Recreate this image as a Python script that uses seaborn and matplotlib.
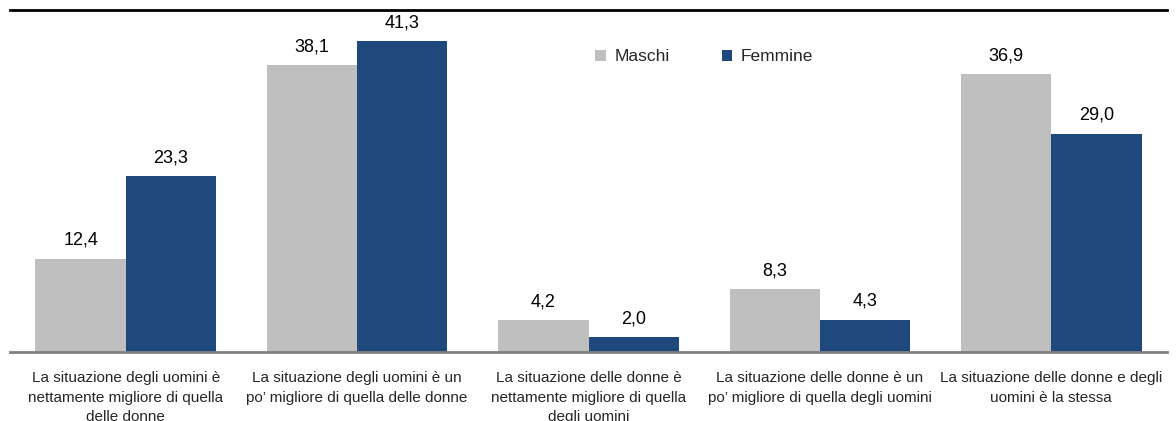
import pandas as pd
import seaborn as sns
import matplotlib.pyplot as plt

# --- data ---
categories = [
    "La situazione degli uomini è\nnettamente migliore di quella\ndelle donne",
    "La situazione degli uomini è un\npo\u2019 migliore di quella delle donne",
    "La situazione delle donne è\nnettamente migliore di quella\ndegli uomini",
    "La situazione delle donne è un\npo\u2019 migliore di quella degli uomini",
    "La situazione delle donne e degli\nuomini è la stessa",
]
maschi = [12.4, 38.1, 4.2, 8.3, 36.9]
femmine = [23.3, 41.3, 2.0, 4.3, 29.0]
series = ["Maschi", "Femmine"]
colors = ["#BFBFBF", "#1F497D"]

df = pd.DataFrame({
    "categoria": categories * 2,
    "valore": maschi + femmine,
    "sesso": [series[0]] * len(categories) + [series[1]] * len(categories),
})

sns.set_style("white")
plt.rcParams["font.family"] = ["Liberation Sans", "DejaVu Sans"]

fig = plt.figure(figsize=(11.76, 4.21), dpi=100)
ax = fig.add_axes([10 / 1176, 1 - 352 / 421, 1157 / 1176, 342 / 421])

sns.barplot(data=df, x="categoria", y="valore", hue="sesso", hue_order=series,
            palette=colors, width=0.78, saturation=1, linewidth=0, ax=ax)

for cont in ax.containers:
    ax.bar_label(cont, labels=[f"{v:.1f}".replace(".", ",") for v in cont.datavalues],
                 padding=7, fontsize=13, color="#000000")

ax.set_ylim(0, 45.4)
ax.set_xlim(-0.5, 4.5)
ax.set_xlabel("")
ax.set_ylabel("")
ax.set_yticks([])
ax.tick_params(axis="x", length=0, pad=14, labelsize=11)
for lbl in ax.get_xticklabels():
    lbl.set_linespacing(1.5)

for s in ["left", "right"]:
    ax.spines[s].set_visible(False)
ax.spines["bottom"].set_color("#808080")
ax.spines["bottom"].set_linewidth(2)
ax.spines["top"].set_color("#000000")
ax.spines["top"].set_linewidth(2)

ax.legend(title=None, loc="center", bbox_to_anchor=(0.6, 0.863), ncol=2,
          frameon=False, fontsize=12.5, handlelength=0.6, handleheight=0.6,
          columnspacing=3.0, handletextpad=0.5)

fig.savefig("out.png", dpi=100)
